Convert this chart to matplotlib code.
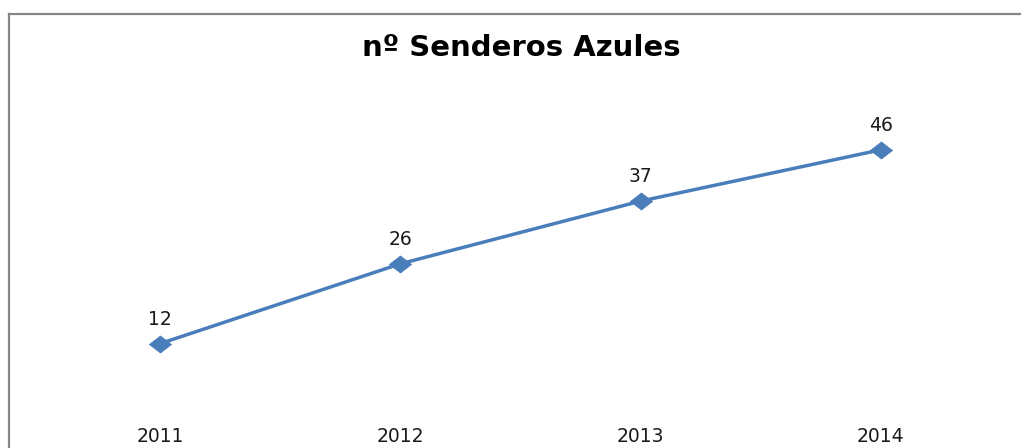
import matplotlib
matplotlib.use("Agg")
import matplotlib.pyplot as plt
from matplotlib.lines import Line2D

years = ["2011", "2012", "2013", "2014"]
values = [12, 26, 37, 46]
title = "nº Senderos Azules"

W, H = 1021, 448
fig = plt.figure(figsize=(W / 100, H / 100), dpi=100)
fig.patch.set_facecolor("white")

# frame (chart area border, partially cut off)
fig.add_artist(Line2D([8.5 / W, 8.5 / W], [0, 1 - 14 / H], transform=fig.transFigure,
                      color="#868686", lw=1.6, solid_capstyle="projecting"))
fig.add_artist(Line2D([8.5 / W, 1.0], [1 - 14.5 / H, 1 - 14.5 / H], transform=fig.transFigure,
                      color="#868686", lw=1.6, solid_capstyle="projecting"))

left, right = 40, 1001
y0, y50 = 412, 127
ax = fig.add_axes([left / W, (H - y0) / H, (right - left) / W, (y0 - y50) / H])
x = list(range(len(years)))
wide_diamond = [(-1.3, 0), (0, 1), (1.3, 0), (0, -1), (-1.3, 0)]
ax.plot(x, values, color="#4A7EBB", lw=2.5, marker=wide_diamond, ms=16,
        markerfacecolor="#4A7EBB", markeredgecolor="#4A7EBB", markeredgewidth=0.5)
for xi, v in zip(x, values):
    ax.annotate(str(v), (xi, v), xytext=(0, 17.5), textcoords="offset points",
                ha="center", va="center", fontsize=13.5, color="#1a1a1a",
                family="DejaVu Sans")
ax.set_xlim(-0.5, 3.5)
ax.set_ylim(0, 50)
ax.set_xticks(x)
ax.set_xticklabels(years, fontsize=13.5, color="#1a1a1a", family="DejaVu Sans")
ax.tick_params(axis="x", length=0, pad=11)
ax.set_yticks([])
for s in ax.spines.values():
    s.set_visible(False)
ax.patch.set_alpha(0)

fig.text(521 / W, 1 - 48 / H, title, ha="center", va="center", fontsize=21,
         fontweight="bold", family="DejaVu Sans", color="black")

fig.savefig("out.png", dpi=100, facecolor="white")
